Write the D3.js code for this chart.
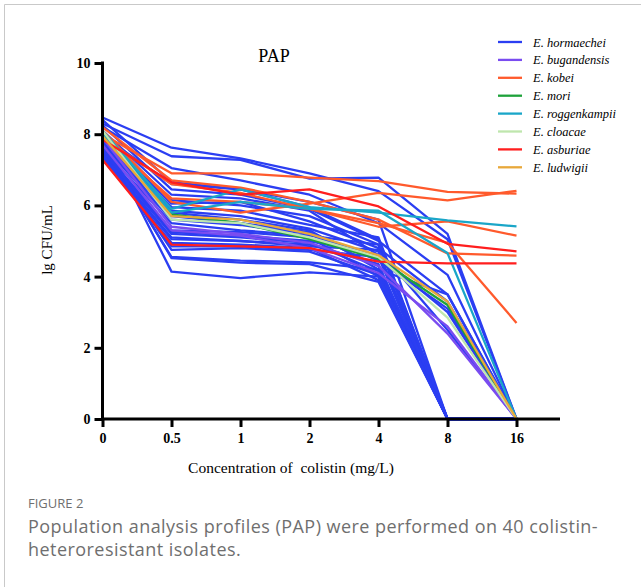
<!DOCTYPE html>
<html>
<head>
<meta charset="utf-8">
<script src="https://cdn.jsdelivr.net/npm/d3@7"></script>
<style>
  body { margin: 0; background: #fff; }
  .axis path, .axis line { stroke: #000; stroke-width: 3; }
  .axis text { font-family: "Liberation Serif", serif; font-weight: bold; font-size: 14px; fill: #000; }
</style>
</head>
<body>
<svg id="chart" width="641" height="587"></svg>
<script>
// colistin concentrations (mg/L), used as categorical x positions
const concentrations = ['0', '0.5', '1', '2', '4', '8', '16'];
const yTicks = [0, 2, 4, 6, 8, 10];

const species = ['E. hormaechei', 'E. bugandensis', 'E. kobei', 'E. mori',
  'E. roggenkampii', 'E. cloacae', 'E. asburiae', 'E. ludwigii'];
const speciesColors = ['#2b3ef2', '#7a4cf0', '#ff5a2c', '#1ea23a',
  '#1aa6c8', '#bfe6ad', '#ff1e1e', '#e8a83a'];

// lg CFU/mL per isolate
const hormaechei = [
  [8.47, 7.62, 7.32, 6.9, 6.4, 5.05, 0],
  [8.3, 7.38, 7.28, 6.75, 6.78, 5.2, 0],
  [8.2, 7.05, 6.7, 6.3, 5.5, 4.05, 0],
  [8.4, 6.65, 6.45, 6.1, 5.6, 0, 0],
  [8.25, 6.45, 6.3, 5.9, 5.0, 3.5, 0],
  [8.1, 6.3, 6.2, 5.85, 4.6, 0, 0],
  [8.0, 6.15, 6.0, 5.7, 4.9, 0, 0],
  [7.95, 6.05, 6.1, 5.55, 4.8, 3.3, 0],
  [7.9, 5.95, 5.85, 5.45, 5.1, 0, 0],
  [7.85, 5.85, 5.7, 5.35, 4.7, 0, 0],
  [7.8, 5.8, 5.6, 5.3, 4.2, 0, 0],
  [7.75, 5.7, 5.5, 5.25, 4.45, 3.1, 0],
  [7.7, 5.6, 5.45, 5.2, 4.3, 0, 0],
  [7.6, 5.5, 5.3, 5.15, 4.9, 0, 0],
  [7.55, 5.3, 5.25, 5.1, 4.0, 0, 0],
  [7.5, 5.25, 5.15, 5.0, 4.6, 3.0, 0],
  [7.45, 5.2, 5.1, 4.95, 4.15, 0, 0],
  [7.4, 5.1, 5.0, 4.9, 4.35, 0, 0],
  [7.35, 5.05, 5.0, 4.85, 4.75, 2.5, 0],
  [7.3, 4.95, 4.9, 4.8, 3.9, 0, 0],
  [7.45, 4.85, 4.85, 4.75, 4.55, 0, 0],
  [7.6, 4.75, 4.8, 4.7, 4.05, 0, 0],
  [7.7, 4.55, 4.45, 4.4, 4.2, 3.5, 0],
  [7.8, 4.52, 4.39, 4.35, 3.85, 0, 0],
  [8.0, 4.14, 3.96, 4.12, 4.0, 0, 0],
  [7.95, 6.6, 6.45, 5.95, 5.05, 0, 0]
];
const bugandensis = [
  [7.9, 5.4, 5.2, 4.95, 4.3, 2.4, 0],
  [7.7, 5.3, 5.15, 4.8, 4.1, 2.6, 0]
];
const kobei = [
  [8.0, 6.9, 6.9, 6.78, 6.68, 6.38, 6.33],
  [8.1, 6.1, 5.8, 6.05, 6.35, 6.14, 6.41],
  [7.9, 6.6, 6.35, 5.9, 5.4, 5.55, 5.15],
  [8.2, 6.7, 6.5, 6.1, 5.6, 4.65, 4.59],
  [7.9, 6.2, 6.1, 5.9, 5.5, 4.95, 2.7]
];
const mori = [[8.05, 5.75, 5.5, 5.05, 4.5, 3.2, 0]];
const roggenkampii = [
  [8.1, 5.9, 6.45, 5.95, 5.8, 5.58, 5.41],
  [8.0, 5.8, 6.1, 5.9, 5.85, 4.66, 0]
];
const cloacae = [[8.1, 5.6, 5.5, 5.1, 4.55, 2.85, 0]];
const asburiae = [
  [7.85, 6.65, 6.3, 6.45, 5.97, 4.92, 4.71],
  [7.28, 4.9, 4.85, 4.8, 4.42, 4.37, 4.37]
];
const ludwigii = [[7.95, 5.7, 5.6, 5.2, 4.6, 3.3, 0]];

const groups = [hormaechei, bugandensis, kobei, mori, roggenkampii, cloacae, asburiae, ludwigii];

const svg = d3.select('#chart');

// gray frame of the figure panel
svg.append('path')
  .attr('d', 'M4.5,587V4.5H641')
  .attr('fill', 'none')
  .attr('stroke', '#c9c9c9')
  .attr('stroke-width', 1);

const x = d3.scalePoint().domain(concentrations).range([102.5, 516.5]);
const y = d3.scaleLinear().domain([0, 10]).range([419, 63]);

// lines, one per isolate
const isolates = [];
groups.forEach((g, i) => g.forEach(v => isolates.push({ sp: i, values: v })));

const line = d3.line()
  .x((d, i) => x(concentrations[i]))
  .y(d => y(d));

svg.append('g')
  .selectAll('path')
  .data(isolates)
  .join('path')
  .attr('d', d => line(d.values))
  .attr('fill', 'none')
  .attr('stroke', d => speciesColors[d.sp])
  .attr('stroke-width', 2.3)
  .attr('stroke-linejoin', 'round');

// axes
const xAxisG = svg.append('g')
  .attr('class', 'axis')
  .attr('transform', `translate(0,${y(0)})`)
  .call(d3.axisBottom(x).tickSize(8).tickPadding(6).tickSizeOuter(0));
xAxisG.select('.domain').attr('d', `M${x('0') - 1.5},0H560`);

const yAxisG = svg.append('g')
  .attr('class', 'axis')
  .attr('transform', `translate(${x('0')},0)`)
  .call(d3.axisLeft(y).tickValues(yTicks).tickSize(8).tickPadding(4).tickSizeOuter(0));
yAxisG.select('.domain').attr('d', `M0,${y(10) - 1.5}V${y(0) + 1.5}`);

// titles
svg.append('text')
  .attr('x', 274).attr('y', 62)
  .attr('text-anchor', 'middle')
  .style('font-family', '"Liberation Serif", serif')
  .style('font-size', '18px')
  .text('PAP');

svg.append('text')
  .attr('x', 291).attr('y', 473)
  .attr('text-anchor', 'middle')
  .style('font-family', '"Liberation Serif", serif')
  .style('font-size', '15.5px')
  .style('white-space', 'pre')
  .text('Concentration of\u00A0 colistin (mg/L)');

svg.append('text')
  .attr('transform', 'translate(52,240) rotate(-90)')
  .attr('text-anchor', 'middle')
  .style('font-family', '"Liberation Serif", serif')
  .style('font-size', '15px')
  .text('lg CFU/mL');

// legend
const legend = svg.append('g').attr('transform', 'translate(498,42)');
const rows = legend.selectAll('g')
  .data(species)
  .join('g')
  .attr('transform', (d, i) => `translate(0,${i * 17.9})`);
rows.append('line')
  .attr('x1', 0).attr('x2', 24)
  .attr('stroke', (d, i) => speciesColors[i])
  .attr('stroke-width', 2.3);
rows.append('text')
  .attr('x', 35).attr('y', 4.5)
  .style('font-family', '"Liberation Serif", serif')
  .style('font-style', 'italic')
  .style('font-size', '12.5px')
  .text(d => d);

// figure caption
svg.append('text')
  .attr('x', 28).attr('y', 508)
  .style('font-family', '"Open Sans", sans-serif')
  .style('font-size', '13px')
  .style('fill', '#6f6f6f')
  .text('FIGURE 2');

const captionLines = ['Population analysis profiles (PAP) were performed on 40 colistin-',
  'heteroresistant isolates.'];
svg.append('g').selectAll('text')
  .data(captionLines)
  .join('text')
  .attr('x', 28)
  .attr('y', (d, i) => 533 + i * 23)
  .style('font-family', '"Open Sans", sans-serif')
  .style('font-size', '18px')
  .style('letter-spacing', '0.45px')
  .style('fill', '#6f6f6f')
  .text(d => d);
</script>
</body>
</html>
